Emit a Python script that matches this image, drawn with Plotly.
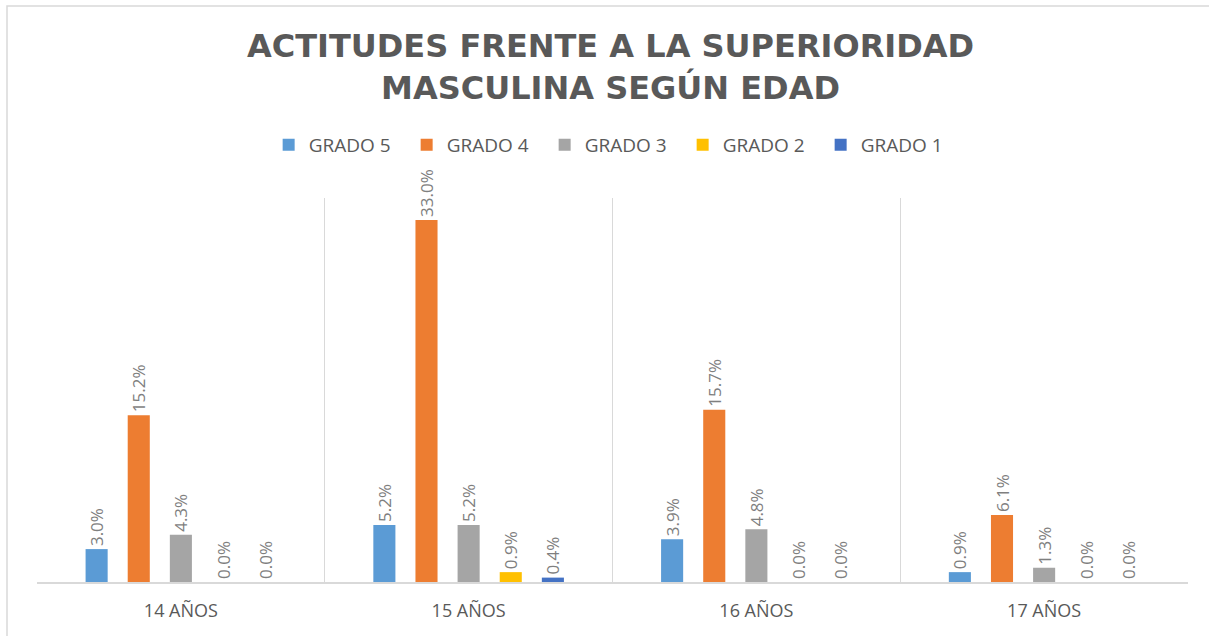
import plotly.graph_objects as go

categories = ["14 AÑOS", "15 AÑOS", "16 AÑOS", "17 AÑOS"]
series_names = ["GRADO 5", "GRADO 4", "GRADO 3", "GRADO 2", "GRADO 1"]
grado5 = [3.0, 5.2, 3.9, 0.9]
grado4 = [15.2, 33.0, 15.7, 6.1]
grado3 = [4.3, 5.2, 4.8, 1.3]
grado2 = [0.0, 0.9, 0.0, 0.0]
grado1 = [0.0, 0.4, 0.0, 0.0]
colors = ["#5B9BD5", "#ED7D31", "#A5A5A5", "#FFC000", "#4472C4"]

values = [grado5, grado4, grado3, grado2, grado1]

W, H = 1209, 636
L, R, T, B = 37, 21, 198, 54

fig = go.Figure()
for name, vals, col in zip(series_names, values, colors):
    fig.add_trace(go.Bar(
        name=name, x=categories, y=vals, marker_color=col,
        marker_line_width=0,
        text=[f"{v:.1f}%" for v in vals], textposition="outside",
        textangle=-90, cliponaxis=False, constraintext="none",
        textfont=dict(family="Open Sans", size=17, color="#7F7F7F"),
    ))

pw = W - L - R
ph = H - T - B
def px_x(p):
    return (p - L) / pw
def px_y(p):
    return (H - B - p) / ph

fig.update_layout(
    width=W, height=H,
    margin=dict(l=L, r=R, t=T, b=B),
    paper_bgcolor="white", plot_bgcolor="white",
    barmode="group", bargap=0.268, bargroupgap=0.476,
    title=dict(
        text="<b>ACTITUDES FRENTE A LA SUPERIORIDAD<br>MASCULINA SEGÚN EDAD</b>",
        x=0.505, xanchor="center", y=1 - 57 / H, yanchor="middle",
        font=dict(family="DejaVu Sans", size=32, color="#595959"),
    ),
    legend=dict(
        orientation="h", x=0.501, xanchor="center", y=px_y(145), yanchor="middle",
        font=dict(family="Open Sans", size=19, color="#595959"),
        traceorder="normal", itemclick=False, entrywidth=93,
    ),
    xaxis=dict(
        tickson="boundaries", showgrid=True, gridcolor="#D9D9D9", gridwidth=1,
        showline=True, linecolor="#D9D9D9", linewidth=1.5, ticks="",
        tickfont=dict(family="Open Sans", size=18, color="#595959"),
        ticklabelstandoff=12,
        fixedrange=True,
    ),
    yaxis=dict(range=[0, 35], visible=False, showgrid=False, fixedrange=True),
    shapes=[dict(
        type="rect", xref="paper", yref="paper",
        x0=px_x(7), x1=px_x(1220), y0=px_y(650), y1=px_y(6),
        line=dict(color="#D9D9D9", width=1.5), fillcolor="rgba(0,0,0,0)",
        layer="below",
    )],
)

fig.write_html("out.html", config={"displayModeBar": False},
               post_script="document.body.style.margin='0';")
